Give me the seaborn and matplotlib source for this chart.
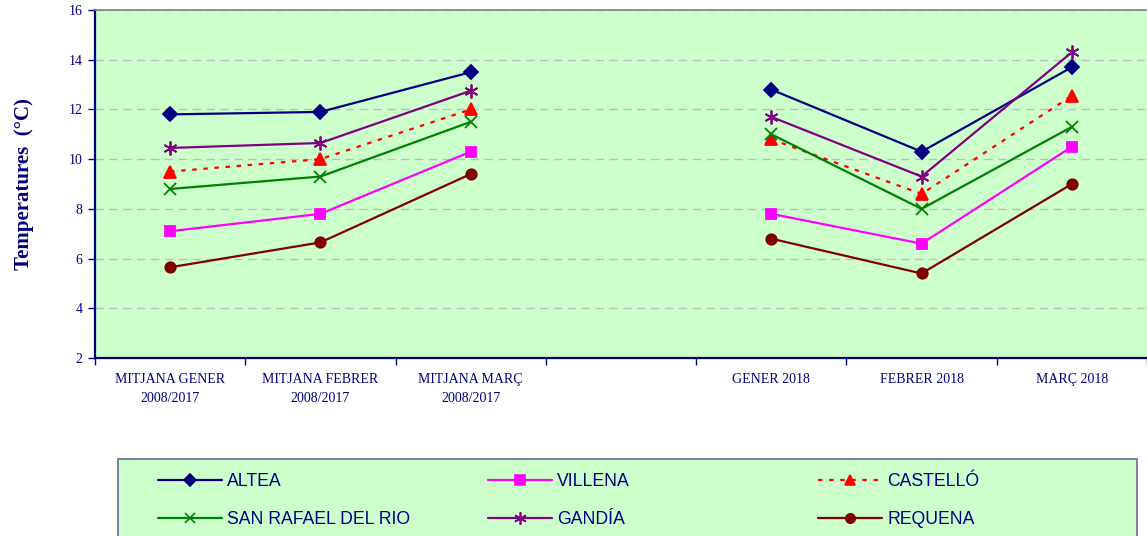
import numpy as np
import pandas as pd
import seaborn as sns
import matplotlib.pyplot as plt
from matplotlib.patches import Rectangle
from matplotlib.lines import Line2D
from matplotlib.ticker import FixedLocator, NullFormatter

# ---- data ----
categories = ["MITJANA GENER\n2008/2017", "MITJANA FEBRER\n2008/2017", "MITJANA MARÇ\n2008/2017",
              "", "GENER 2018", "FEBRER 2018", "MARÇ 2018"]
period = ["hist", "hist", "hist", None, "2018", "2018", "2018"]

altea = [11.8, 11.9, 13.5, None, 12.8, 10.3, 13.7]
villena = [7.1, 7.8, 10.3, None, 7.8, 6.6, 10.5]
castello = [9.5, 10.0, 12.0, None, 10.8, 8.6, 12.55]
san_rafael = [8.8, 9.3, 11.5, None, 11.0, 8.0, 11.3]
gandia = [10.45, 10.65, 12.75, None, 11.7, 9.3, 14.3]
requena = [5.65, 6.65, 9.4, None, 6.8, 5.4, 9.0]

stations = ["ALTEA", "VILLENA", "CASTELLÓ", "SAN RAFAEL DEL RIO", "GANDÍA", "REQUENA"]
values = [altea, villena, castello, san_rafael, gandia, requena]

rows = []
for name, vals in zip(stations, values):
    for i, v in enumerate(vals):
        if v is not None:
            rows.append({"station": name, "pos": i, "group": period[i], "temp": v})
df = pd.DataFrame(rows)

# ---- styles ----
styles = {
    "ALTEA": dict(color="#000080", marker="D", ms=7, ls="-"),
    "VILLENA": dict(color="#ff00ff", marker="s", ms=7.5, ls="-"),
    "CASTELLÓ": dict(color="#ff0000", marker="^", ms=8, ls=(0, (2, 3))),
    "SAN RAFAEL DEL RIO": dict(color="#008000", marker="x", ms=8, ls="-"),
    "GANDÍA": dict(color="#800080", marker=(6, 2, 0), ms=10, ls="-"),
    "REQUENA": dict(color="#800000", marker="o", ms=7.5, ls="-"),
}

navy = "#000080"
sns.set_style("white")
plt.rcParams["font.family"] = ["Liberation Serif", "DejaVu Serif"]

fig = plt.figure(figsize=(11.47, 5.36), dpi=100)
ax = fig.add_axes([95 / 1147, 178 / 536, 1052 / 1147, 348 / 536])
ax.set_facecolor("#ccffcc")

for name in stations:
    st = styles[name]
    sns.lineplot(data=df[df.station == name], x="pos", y="temp", units="group", estimator=None,
                 color=st["color"], marker=st["marker"], markersize=st["ms"], linestyle=st["ls"],
                 markeredgecolor=st["color"], markerfacecolor=st["color"], markeredgewidth=1.3,
                 linewidth=1.6, ax=ax, legend=False)

ax.set_xlim(-0.5, len(categories) - 0.5)
ax.set_ylim(2, 16)
ax.set_yticks(np.arange(2, 17, 2))
ax.yaxis.grid(True, color="#c4b8c4", linestyle=(0, (6, 4)), linewidth=1)
ax.set_axisbelow(True)

# x ticks at category borders, labels at centres
ax.xaxis.set_major_locator(FixedLocator(np.arange(-0.5, len(categories), 1.0)))
ax.xaxis.set_major_formatter(NullFormatter())
ax.xaxis.set_minor_locator(FixedLocator(np.arange(len(categories))))
ax.set_xticklabels(categories, minor=True, fontsize=10, color=navy, linespacing=1.6)
ax.tick_params(axis="x", which="major", length=5, width=1, color=navy, direction="out", bottom=True)
ax.tick_params(axis="x", which="minor", length=0, pad=11)
ax.tick_params(axis="y", length=5, width=1, color=navy, direction="out", left=True,
               labelsize=10, labelcolor=navy, pad=4)

ax.set_xlabel("")
ax.set_ylabel("Temperatures  (°C)", fontsize=15, fontweight="bold", color=navy, labelpad=25)

for s in ["left", "bottom"]:
    ax.spines[s].set_color(navy)
    ax.spines[s].set_linewidth(1.6)
ax.spines["top"].set_color("#808080")
ax.spines["top"].set_linewidth(1.2)
ax.spines["right"].set_visible(False)

# ---- legend ----
handles = {}
for name in stations:
    st = styles[name]
    handles[name] = Line2D([], [], color=st["color"], marker=st["marker"], markersize=st["ms"] * 0.9,
                           linestyle=st["ls"], markeredgecolor=st["color"], markerfacecolor=st["color"],
                           linewidth=1.6, markeredgewidth=1.2)

fig.patches.append(Rectangle((118 / 1147, -0.05), 1019 / 1147, (536 - 459) / 536 + 0.05,
                             transform=fig.transFigure, facecolor="#ccffcc",
                             edgecolor="#6a6aa0", linewidth=1.2, zorder=0))

col_x = [158, 488, 818]
col_names = [["ALTEA", "SAN RAFAEL DEL RIO"], ["VILLENA", "GANDÍA"], ["CASTELLÓ", "REQUENA"]]
for x0, names in zip(col_x, col_names):
    fig.legend([handles[n] for n in names], names, loc="upper left",
               bbox_to_anchor=(x0 / 1147, (536 - 473) / 536), frameon=False,
               borderpad=0, borderaxespad=0, handlelength=3.65, handletextpad=0.28,
               labelspacing=1.2, prop={"family": "Liberation Sans", "size": 12.7},
               labelcolor=navy)

fig.savefig("out.png", dpi=100)
